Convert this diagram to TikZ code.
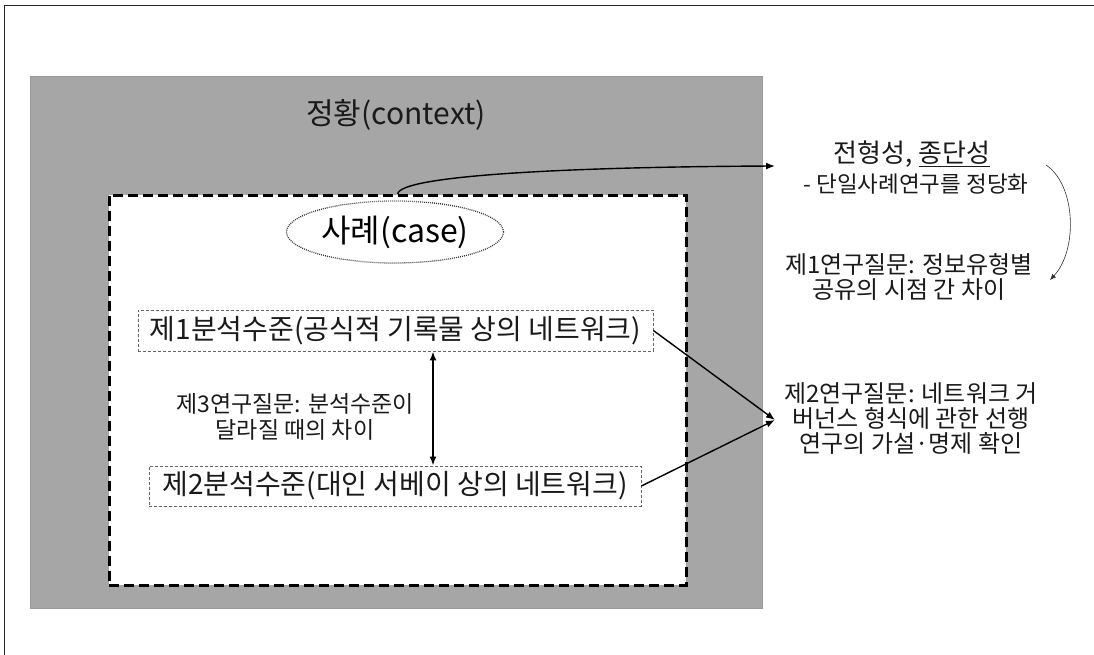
\documentclass[tikz,border=0pt]{standalone}
\usepackage{fontspec}
\setmainfont{Noto Sans CJK KR}
\usetikzlibrary{shapes.geometric,arrows.meta}
\definecolor{ctxgray}{HTML}{A6A6A6}
\definecolor{ctxedge}{HTML}{999999}
\definecolor{txt}{HTML}{1A1A1A}
\tikzset{
  pageline/.style={draw=black!85, line width=0.8pt},
  ctxbox/.style={fill=ctxgray, draw=ctxedge, line width=1pt, inner sep=0pt, anchor=north west},
  caseframe/.style={draw=black, fill=white, line width=2.6pt, dash pattern=on 10pt off 5pt, inner sep=0pt, anchor=north west},
  caseell/.style={ellipse, draw=black!80, line width=1.3pt, dash pattern=on 0.9pt off 1.1pt, fill=white, inner sep=0pt},
  levelbox/.style={draw=black!60, line width=0.8pt, dash pattern=on 3pt off 2pt, inner sep=0pt, text=txt},
  lbl/.style={text=txt, align=center, inner sep=0pt},
  bigarrow/.style={draw=black, line width=1.8pt, -{Latex[length=9pt,width=7pt]}},
  midarrow/.style={draw=black, line width=1.4pt, -{Latex[length=9pt,width=7pt]}},
  thinarrow/.style={draw=black!80, line width=0.6pt, -{Latex[length=6pt,width=5pt]}},
}
\newcommand{\fsz}[1]{\fontsize{#1}{#1}\selectfont}
\begin{document}
\begin{tikzpicture}[x=1pt,y=-1pt]
\useasboundingbox (0,0) rectangle (1094,655);
% page frame lines
\coordinate (pgtl) at (4,5);
\coordinate (pgtr) at (1094,5);
\coordinate (pgbl) at (4,655);
\draw[pageline] (pgtr) -- (pgtl) -- (pgbl);
% context
\node[ctxbox, minimum width=732pt, minimum height=532pt] (context) at (30,76) {};
\node[lbl, font=\fsz{30}] (ctxtitle) at (396,115) {정황(context)};
% case frame
\node[caseframe, minimum width=577pt, minimum height=390pt] (caseframe) at (108,194) {};
\node[caseell, minimum width=217pt, minimum height=62pt, font=\fsz{32}] (case) at (395,232) {사례(case)};
% level boxes
\node[levelbox, minimum width=515pt, minimum height=41pt, font=\fsz{28}] (lv1) at (395.5,330.5) {제1분석수준(공식적 기록물 상의 네트워크)};
\node[levelbox, minimum width=492pt, minimum height=40pt, font=\fsz{28}] (lv2) at (395,486) {제2분석수준(대인 서베이 상의 네트워크)};
% level arrow
\coordinate (lvx) at (433,0);
\draw[bigarrow, {Latex[length=9pt,width=7pt]}-{Latex[length=9pt,width=7pt]}] (lv1.south -| lvx) -- (lv2.north -| lvx);
\node[lbl, font=\fsz{23}] (q3) at (295,417) {제3연구질문: 분석수준이\\[3pt]달라질 때의 차이};
% right column
\node[lbl, font=\fsz{26}] (typ) at (912,154) {전형성, \underline{종단성}};
\node[lbl, font=\fsz{22.5}] (just) at (916,184) {- 단일사례연구를 정당화};
\node[lbl, font=\fsz{24}] (q1) at (909,277) {제1연구질문: 정보유형별\\[1pt]공유의 시점 간 차이};
\node[lbl, font=\fsz{24}] (q2) at (911,419) {제2연구질문: 네트워크 거\\[1pt]버넌스 형식에 관한 선행\\[1pt]연구의 가설·명제 확인};
% arrows
\coordinate (q2tip) at (775,420);
\coordinate (typtip) at (775,166);
\draw[midarrow] (caseframe.north) .. controls (399,176) and (560,167) .. (typtip);
\draw[midarrow] (lv1.east) -- (q2tip);
\draw[midarrow] (lv2.east) -- (q2tip);
\coordinate (loopa) at (1046,165);
\coordinate (loopb) at (1050,280);
\draw[thinarrow] (loopa) .. controls (1076,185) and (1078,250) .. (loopb);
\end{tikzpicture}
\end{document}
